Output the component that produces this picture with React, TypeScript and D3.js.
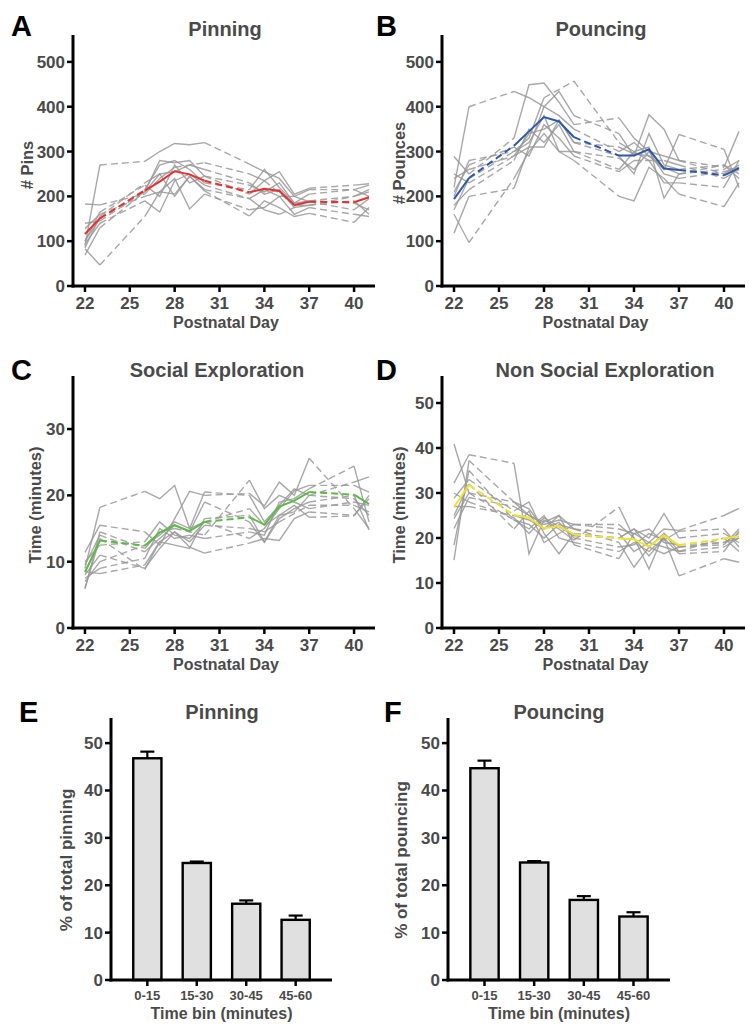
import React from "react";
import * as d3 from "d3";

// ---------- DATA ----------
const DAYS = [22, 23, 26, 27, 28, 29, 30, 33, 34, 35, 36, 37, 40, 41];
const DAY_TICKS = [22, 25, 28, 31, 34, 37, 40];

const PIN_MEAN = [116, 151, 213, 233, 256, 249, 235, 209, 217, 212, 181, 188, 187, 198];
const PIN_ANIMALS: (number | null)[][] = [
  [90, 270, 278, 300, 318, 315, 320, 272, 255, 240, 200, 215, 215, 200],
  [183, 181, 205, 240, 265, null, 275, 250, 235, 255, 205, 218, 225, 228],
  [128, 160, 200, 210, 240, 172, 205, 170, 175, 200, 160, 175, 160, 155],
  [101, 150, 215, 270, 280, 260, 230, 215, 260, 220, 185, 190, 185, 170],
  [94, 140, 190, 165, 235, 250, 225, 195, 170, 160, null, 190, 200, 210],
  [69, 130, 210, 280, 275, 280, 245, 225, 210, 230, 185, 205, 215, 225],
  [83, 47, 155, 210, 205, 245, 212, 156, 190, 175, 155, 162, 142, 175],
  [100, 165, 225, 200, 270, 230, 245, 205, 235, null, 180, 180, 190, 160],
  [140, 145, 210, 250, 200, 245, 215, 195, 215, 200, 200, 188, 170, 195],
  [85, 155, 230, 250, 255, 270, 260, 230, 205, 215, 175, 180, 200, 215],
];

const POUNCE_MEAN = [194, 241, 313, 345, 377, 367, 332, 291, 291, 305, 262, 259, 247, 263];
const POUNCE_ANIMALS: (number | null)[][] = [
  [220, 400, 434, 420, 400, 380, 350, 300, 320, 290, 260, 338, 305, 220],
  [289, 250, 330, 449, 453, 410, 360, 375, 330, 300, 290, 280, 265, 345],
  [118, 200, 218, 310, 400, 434, 380, 340, 290, 382, 350, 280, 250, 270],
  [160, 97, 240, 300, 340, 300, 280, 200, 190, 265, 240, 205, 177, 230],
  [200, 280, 300, 330, 420, null, 457, 320, 300, 310, 196, 250, 260, 280],
  [250, 230, 290, 310, 310, 370, 320, 290, 250, 340, 270, 260, 270, 250],
  [180, 215, 280, 350, 320, 360, 300, 260, 300, 280, 230, 230, 220, 280],
  [210, 270, 310, 290, 360, 330, 290, 255, 280, null, 280, 270, 240, 260],
  [170, 240, 300, 320, 380, 300, 300, 285, 260, 300, 250, 240, 255, 265],
  [240, 260, 290, 340, 350, 370, 320, 310, 295, 290, 265, 250, 270, 240],
];

const SOCIAL_MEAN = [8.4, 13.2, 12.4, 14.4, 15.5, 14.6, 16.0, 16.7, 15.6, 18.3, 19.2, 20.5, 20.1, 18.7];
const SOCIAL_ANIMALS: (number | null)[][] = [
  [9.0, 18.2, 20.6, 19.5, 21.5, 15.0, 20.5, 20.0, 16.0, 18.5, 21.0, 20.0, 19.5, 17.0],
  [11.4, 15.5, 14.5, 12.5, 16.5, 20.6, 20.0, 20.3, 18.4, 22.0, 20.0, 25.6, 18.0, 15.0],
  [6.0, 13.5, 8.8, 13.0, 14.5, 12.2, 11.3, 12.8, 13.5, 13.2, 16.5, 17.5, 17.0, 19.5],
  [7.5, 9.0, 10.5, 15.0, 13.5, 14.0, 13.5, 14.5, 14.0, 19.0, 19.5, 21.0, 24.4, 16.0],
  [8.5, 8.2, 9.5, 13.0, 12.5, 12.0, 16.5, 17.0, 13.0, 17.0, 17.5, 20.0, 22.0, 22.8],
  [5.9, 14.5, 12.0, 14.5, 15.0, null, 14.0, 22.3, 18.0, 20.0, 19.0, 18.0, 19.0, 18.5],
  [10.0, 12.5, 13.0, 16.0, 14.0, 13.5, 16.0, 18.0, 15.5, 17.0, 18.5, 16.7, 16.9, 20.0],
  [9.5, 14.0, 11.5, 13.5, 15.5, 14.5, 19.0, 16.0, 12.9, 16.5, 18.0, 19.0, 20.0, 14.8],
  [7.0, 10.0, 12.5, 14.0, 16.0, 15.0, 16.0, 13.5, 15.0, 18.0, 20.7, 21.5, 21.5, 20.5],
  [8.0, 11.0, 9.0, 12.0, 14.5, 13.0, 15.5, 15.0, 14.5, 16.0, null, 18.5, 18.5, 17.5],
];

const NONSOCIAL_MEAN = [26.9, 31.8, 25.1, 24.5, 22.1, 22.7, 20.8, 19.9, 19.7, 18.1, 20.6, 18.4, 19.9, 20.4];
const NONSOCIAL_ANIMALS: (number | null)[][] = [
  [40.9, 30.0, 28.0, 25.0, 23.0, 24.0, 23.0, 22.0, 21.0, 19.0, 22.0, 21.7, 25.0, 26.6],
  [15.1, 37.2, 28.0, 26.5, 22.0, 25.0, 22.0, 19.0, 13.5, 18.0, 16.5, 18.0, 18.5, 22.0],
  [32.2, 38.5, 36.6, 16.5, 24.0, 22.0, 19.5, 26.9, 20.0, 13.1, 21.0, 17.0, 20.0, 17.0],
  [28.8, 33.0, 26.0, 28.0, 21.0, 16.5, 21.0, 20.0, 22.0, 20.0, 25.4, 20.0, 21.0, 19.0],
  [24.3, 30.0, 24.0, 22.0, 25.0, 20.0, 19.0, 17.0, 19.0, 17.0, 20.0, 11.6, 15.4, 14.6],
  [22.1, 29.0, 27.0, 25.0, 23.5, 25.0, 18.5, 15.4, 21.0, 22.0, 19.0, 18.5, 19.0, 21.0],
  [18.4, 35.0, 24.0, 23.0, 20.0, 23.0, 22.0, 21.0, 17.0, 19.0, 18.0, 17.0, 18.0, 20.0],
  [27.0, 27.0, 25.0, 24.0, 22.0, 23.5, 20.0, 18.0, 18.5, 21.0, 19.5, 21.5, 22.0, 18.0],
  [25.0, 32.0, 22.0, 26.0, 19.0, 21.0, 23.0, 23.0, 20.0, 16.0, 20.0, 16.5, 17.0, 21.5],
  [30.0, 28.0, 24.5, 21.0, 24.5, 22.5, 20.5, 20.0, 22.0, 18.0, 21.0, 18.0, 19.0, 20.0],
];

const TIME_BINS = ["0-15", "15-30", "30-45", "45-60"];
const PIN_PCT = [46.8, 24.7, 16.1, 12.7];
const PIN_SEM = [1.4, 0.3, 0.7, 0.9];
const POUNCE_PCT = [44.7, 24.8, 16.9, 13.4];
const POUNCE_SEM = [1.6, 0.3, 0.8, 0.9];

// ---------- STYLE ----------
const FONT = "'Liberation Sans', Arial, Helvetica, sans-serif";
const TXT = "#4a4a4a";
const GRAY = "#999999";

type Pt = [number, number];

function splitSegments(vals: (number | null)[]) {
  const pts: Pt[] = [];
  vals.forEach((v, i) => {
    if (v !== null && v !== undefined) pts.push([DAYS[i], v]);
  });
  const solid: Pt[][] = [];
  const dashed: Pt[][] = [];
  let run: Pt[] = pts.length ? [pts[0]] : [];
  for (let i = 1; i < pts.length; i++) {
    const p = pts[i - 1];
    const q = pts[i];
    if (q[0] - p[0] === 1) {
      run.push(q);
    } else {
      if (run.length > 1) solid.push(run);
      dashed.push([p, q]);
      run = [q];
    }
  }
  if (run.length > 1) solid.push(run);
  return { solid, dashed };
}

interface LineProps {
  left: number;
  right: number;
  top: number;
  bottom: number;
  yMax: number;
  yTicks: number[];
  mean: number[];
  animals: (number | null)[][];
  color: string;
  title: string;
  titleX: number;
  ylabel: string;
  ylabelX: number;
  ylabelY: number;
  letter: string;
  letterX: number;
  letterY: number;
}

function LinePanel(p: LineProps) {
  const x = d3.scaleLinear().domain([21.2, 41.4]).range([p.left, p.right]);
  const y = d3.scaleLinear().domain([0, p.yMax]).range([p.bottom, p.top]);
  const line = d3
    .line<Pt>()
    .x((d) => x(d[0]))
    .y((d) => y(d[1]));
  const meanSeg = splitSegments(p.mean);
  return (
    <g fontFamily={FONT} fontWeight="bold">
      <text x={p.letterX} y={p.letterY} fontSize={29} fill="#000">
        {p.letter}
      </text>
      <text x={p.titleX} y={p.top + 1} fontSize={20} fill={TXT} textAnchor="middle">
        {p.title}
      </text>
      {p.animals.map((a, i) => {
        const s = splitSegments(a);
        return (
          <g key={i} fill="none" stroke={GRAY} strokeOpacity={0.85} strokeWidth={1.4}>
            {s.solid.map((r, j) => (
              <path key={"s" + j} d={line(r) || ""} />
            ))}
            {s.dashed.map((r, j) => (
              <path key={"d" + j} d={line(r) || ""} strokeDasharray="7,4" />
            ))}
          </g>
        );
      })}
      <g fill="none" stroke={p.color} strokeWidth={2}>
        {meanSeg.solid.map((r, j) => (
          <path key={"s" + j} d={line(r) || ""} />
        ))}
        {meanSeg.dashed.map((r, j) => (
          <path key={"d" + j} d={line(r) || ""} strokeDasharray="7,4" />
        ))}
      </g>
      {/* axes */}
      <line x1={p.left} x2={p.left} y1={p.top} y2={p.bottom + 1.5} stroke="#000" strokeWidth={3} />
      <line x1={p.left - 1.5} x2={p.right} y1={p.bottom} y2={p.bottom} stroke="#000" strokeWidth={3} />
      {p.yTicks.map((t) => (
        <g key={t}>
          <line x1={p.left - 6} x2={p.left} y1={y(t)} y2={y(t)} stroke="#000" strokeWidth={2.5} />
          <text x={p.left - 8} y={y(t) + 6} fontSize={17} fill={TXT} textAnchor="end">
            {t}
          </text>
        </g>
      ))}
      {DAY_TICKS.map((t) => (
        <g key={t}>
          <line x1={x(t)} x2={x(t)} y1={p.bottom} y2={p.bottom + 6} stroke="#000" strokeWidth={2.5} />
          <text x={x(t)} y={p.bottom + 23} fontSize={17} fill={TXT} textAnchor="middle">
            {t}
          </text>
        </g>
      ))}
      <text x={(p.left + p.right) / 2 + 2} y={p.bottom + 42} fontSize={16} fill={TXT} textAnchor="middle">
        Postnatal Day
      </text>
      <text
        x={p.ylabelX}
        y={p.ylabelY}
        fontSize={16.5}
        fill={TXT}
        textAnchor="middle"
        dominantBaseline="central"
        transform={`rotate(-90, ${p.ylabelX}, ${p.ylabelY})`}
      >
        {p.ylabel}
      </text>
    </g>
  );
}

interface BarProps {
  left: number;
  right: number;
  top: number;
  bottom: number;
  yMax: number;
  values: number[];
  sems: number[];
  title: string;
  titleX: number;
  ylabel: string;
  ylabelX: number;
  ylabelY: number;
  letter: string;
  letterX: number;
  letterY: number;
}

function BarPanel(p: BarProps) {
  const x = d3.scaleBand<string>().domain(TIME_BINS).range([p.left, p.right]).paddingInner(0.43).paddingOuter(0.45);
  const y = d3.scaleLinear().domain([0, p.yMax]).range([p.bottom, p.top]);
  const ticks = [0, 10, 20, 30, 40, 50];
  const bw = x.bandwidth();
  return (
    <g fontFamily={FONT} fontWeight="bold">
      <text x={p.letterX} y={p.letterY} fontSize={29} fill="#000">
        {p.letter}
      </text>
      <text x={p.titleX} y={p.top + 1} fontSize={20} fill={TXT} textAnchor="middle">
        {p.title}
      </text>
      {TIME_BINS.map((b, i) => {
        const cx = (x(b) as number) + bw / 2;
        const yt = y(p.values[i]);
        const ye = y(p.values[i] + p.sems[i]);
        return (
          <g key={b}>
            <line x1={cx} x2={cx} y1={yt} y2={ye} stroke="#000" strokeWidth={2.2} />
            <line x1={cx - 7} x2={cx + 7} y1={ye} y2={ye} stroke="#000" strokeWidth={2.2} />
            <rect x={x(b)} y={yt} width={bw} height={p.bottom - yt} fill="#e0e0e0" stroke="#000" strokeWidth={2.4} />
          </g>
        );
      })}
      <line x1={p.left} x2={p.left} y1={p.top} y2={p.bottom + 1.5} stroke="#000" strokeWidth={3} />
      <line x1={p.left - 1.5} x2={p.right} y1={p.bottom} y2={p.bottom} stroke="#000" strokeWidth={3} />
      {ticks.map((t) => (
        <g key={t}>
          <line x1={p.left - 6} x2={p.left} y1={y(t)} y2={y(t)} stroke="#000" strokeWidth={2.5} />
          <text x={p.left - 8} y={y(t) + 6} fontSize={17} fill={TXT} textAnchor="end">
            {t}
          </text>
        </g>
      ))}
      {TIME_BINS.map((b) => {
        const cx = (x(b) as number) + bw / 2;
        return (
          <g key={b}>
            <line x1={cx} x2={cx} y1={p.bottom} y2={p.bottom + 6} stroke="#000" strokeWidth={2.5} />
            <text x={cx} y={p.bottom + 20} fontSize={13} fill={TXT} textAnchor="middle">
              {b}
            </text>
          </g>
        );
      })}
      <text x={(p.left + p.right) / 2} y={p.bottom + 39} fontSize={16} fill={TXT} textAnchor="middle">
        Time bin (minutes)
      </text>
      <text
        x={p.ylabelX}
        y={p.ylabelY}
        fontSize={17}
        fill={TXT}
        textAnchor="middle"
        dominantBaseline="central"
        transform={`rotate(-90, ${p.ylabelX}, ${p.ylabelY})`}
      >
        {p.ylabel}
      </text>
    </g>
  );
}

export default function App() {
  return (
    <svg
      width={750}
      height={1024}
      viewBox="0 0 750 1024"
      style={{ position: "absolute", left: 0, top: 0, background: "#fff" }}
    >
      <rect width={750} height={1024} fill="#fff" />
      <LinePanel
        left={73} right={375} top={35} bottom={286} yMax={560}
        yTicks={[0, 100, 200, 300, 400, 500]}
        mean={PIN_MEAN} animals={PIN_ANIMALS} color="#e8312e"
        title="Pinning" titleX={225}
        ylabel="# Pins" ylabelX={27} ylabelY={165}
        letter="A" letterX={11} letterY={36}
      />
      <LinePanel
        left={442} right={745} top={35} bottom={286} yMax={560}
        yTicks={[0, 100, 200, 300, 400, 500]}
        mean={POUNCE_MEAN} animals={POUNCE_ANIMALS} color="#2e58a8"
        title="Pouncing" titleX={601}
        ylabel="# Pounces" ylabelX={399} ylabelY={163}
        letter="B" letterX={376} letterY={36}
      />
      <LinePanel
        left={73} right={375} top={376} bottom={628} yMax={38}
        yTicks={[0, 10, 20, 30]}
        mean={SOCIAL_MEAN} animals={SOCIAL_ANIMALS} color="#5cbb45"
        title="Social Exploration" titleX={217}
        ylabel="Time (minutes)" ylabelX={35} ylabelY={505}
        letter="C" letterX={11} letterY={380}
      />
      <LinePanel
        left={442} right={745} top={376} bottom={628} yMax={56}
        yTicks={[0, 10, 20, 30, 40, 50]}
        mean={NONSOCIAL_MEAN} animals={NONSOCIAL_ANIMALS} color="#f0e330"
        title="Non Social Exploration" titleX={605}
        ylabel="Time (minutes)" ylabelX={399} ylabelY={505}
        letter="D" letterX={376} letterY={380}
      />
      <BarPanel
        left={111} right={332} top={718} bottom={980} yMax={55.3}
        values={PIN_PCT} sems={PIN_SEM}
        title="Pinning" titleX={222}
        ylabel="% of total pinning" ylabelX={66} ylabelY={860}
        letter="E" letterX={19} letterY={722}
      />
      <BarPanel
        left={448} right={670} top={718} bottom={980} yMax={55.3}
        values={POUNCE_PCT} sems={POUNCE_SEM}
        title="Pouncing" titleX={559}
        ylabel="% of total pouncing" ylabelX={401} ylabelY={860}
        letter="F" letterX={384} letterY={722}
      />
    </svg>
  );
}
